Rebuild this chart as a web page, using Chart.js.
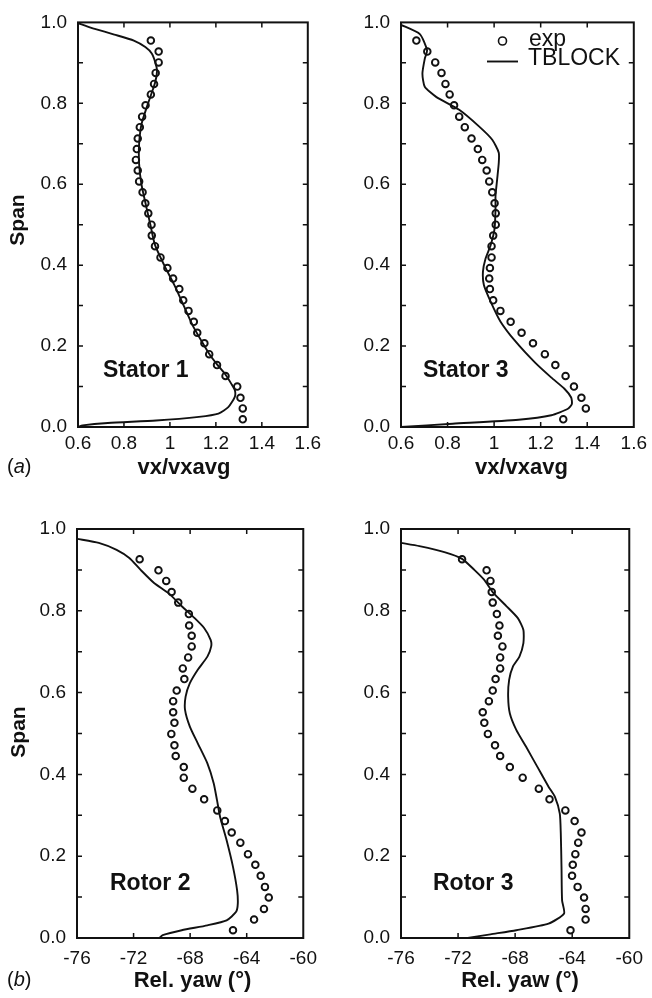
<!DOCTYPE html>
<html>
<head>
<meta charset="utf-8">
<script src="https://cdn.jsdelivr.net/npm/chart.js@4/dist/chart.umd.min.js"></script>
<style>
  html, body { margin: 0; padding: 0; background: #fff; }
  #wrap { position: relative; width: 652px; height: 998px; }
  canvas { position: absolute; }
</style>
</head>
<body>
<div id="wrap">
  <canvas id="stator1" width="326" height="490" style="left:0;top:0"></canvas>
  <canvas id="stator3" width="326" height="490" style="left:326px;top:0"></canvas>
  <canvas id="rotor2" width="326" height="498" style="left:0;top:500px"></canvas>
  <canvas id="rotor3" width="326" height="498" style="left:326px;top:500px"></canvas>
</div>
<script>
// --- values ---

// (a) stators: axial velocity ratio
const statorExpSpan = [0.019, 0.046, 0.072, 0.100, 0.126, 0.153, 0.180, 0.207, 0.233, 0.260, 0.287, 0.313,
  0.341, 0.367, 0.393, 0.419, 0.447, 0.473, 0.500, 0.528, 0.553, 0.580, 0.607, 0.634,
  0.660, 0.687, 0.713, 0.741, 0.767, 0.795, 0.822, 0.848, 0.875, 0.901, 0.928, 0.955];
const stator1ExpVx = [1.317, 1.317, 1.307, 1.293, 1.242, 1.205, 1.171, 1.150, 1.119, 1.104, 1.081, 1.058,
  1.041, 1.014, 0.989, 0.959, 0.935, 0.921, 0.920, 0.906, 0.893, 0.881, 0.866, 0.860,
  0.852, 0.856, 0.860, 0.869, 0.879, 0.894, 0.917, 0.931, 0.938, 0.951, 0.951, 0.917];
const stator3ExpVx = [1.297, 1.394, 1.375, 1.343, 1.307, 1.263, 1.218, 1.167, 1.118, 1.071, 1.027, 0.996,
  0.982, 0.979, 0.982, 0.989, 0.989, 0.996, 1.007, 1.007, 1.002, 0.992, 0.979, 0.968,
  0.949, 0.930, 0.903, 0.874, 0.850, 0.828, 0.809, 0.791, 0.774, 0.747, 0.713, 0.666];

const stator1CfdSpan = [0.000, 0.004, 0.010, 0.016, 0.025, 0.033, 0.049, 0.074, 0.090, 0.106, 0.131, 0.155,
  0.180, 0.210, 0.250, 0.300, 0.350, 0.400, 0.450, 0.500, 0.550, 0.600, 0.650, 0.700,
  0.750, 0.800, 0.850, 0.880, 0.900, 0.923, 0.939, 0.955, 0.970, 0.984, 0.992, 0.998];
const stator1CfdVx = [0.600, 0.620, 0.730, 0.940, 1.126, 1.211, 1.254, 1.282, 1.283, 1.268, 1.240, 1.205,
  1.172, 1.140, 1.100, 1.060, 1.020, 0.975, 0.935, 0.915, 0.895, 0.876, 0.866, 0.866,
  0.877, 0.905, 0.935, 0.944, 0.937, 0.921, 0.893, 0.843, 0.758, 0.673, 0.631, 0.600];

const stator3CfdSpan = [0.000, 0.008, 0.018, 0.029, 0.045, 0.057, 0.073, 0.094, 0.122, 0.159, 0.212, 0.261,
  0.310, 0.351, 0.384, 0.416, 0.449, 0.490, 0.539, 0.571, 0.612, 0.653, 0.678, 0.710,
  0.743, 0.784, 0.816, 0.841, 0.873, 0.910, 0.931, 0.971, 0.994];
const stator3CfdVx = [0.600, 0.822, 1.105, 1.246, 1.317, 1.334, 1.331, 1.303, 1.246, 1.176, 1.091, 1.027,
  0.985, 0.956, 0.952, 0.963, 0.985, 1.002, 1.006, 1.006, 1.013, 1.020, 1.020, 0.992,
  0.935, 0.850, 0.751, 0.702, 0.692, 0.702, 0.712, 0.681, 0.600];

// (b) rotors: relative yaw angle (deg)
const rotorExpSpan = [0.019, 0.045, 0.071, 0.099, 0.125, 0.152, 0.179, 0.205, 0.233, 0.258, 0.286, 0.312,
  0.339, 0.365, 0.392, 0.418, 0.445, 0.471, 0.499, 0.526, 0.552, 0.579, 0.605, 0.633,
  0.659, 0.686, 0.713, 0.739, 0.764, 0.792, 0.820, 0.846, 0.873, 0.899, 0.926];
const rotor2ExpYaw = [-64.97, -63.48, -62.78, -62.44, -62.71, -63.01, -63.39, -63.91, -64.45, -65.06, -65.54, -66.08,
  -67.01, -67.84, -68.45, -68.45, -69.02, -69.11, -69.33, -69.11, -69.20, -69.20, -68.95, -68.41,
  -68.52, -68.14, -67.89, -67.89, -68.07, -68.09, -68.84, -69.31, -69.69, -70.24, -71.57];
const rotor3ExpYaw = [-64.12, -63.06, -63.06, -63.17, -63.62, -64.01, -63.96, -63.78, -63.58, -63.35, -63.83, -64.48,
  -65.59, -66.34, -67.47, -68.37, -69.05, -69.41, -69.91, -70.16, -70.27, -69.84, -69.57, -69.37,
  -69.05, -69.05, -68.89, -69.21, -69.10, -69.28, -69.57, -69.64, -69.73, -70.00, -71.72];

const rotor2CfdSpan = [0.000, 0.007, 0.019, 0.031, 0.043, 0.064, 0.084, 0.117, 0.174, 0.239, 0.296, 0.337,
  0.378, 0.427, 0.476, 0.517, 0.558, 0.590, 0.623, 0.656, 0.688, 0.713, 0.729, 0.758,
  0.782, 0.811, 0.842, 0.868, 0.900, 0.929, 0.949, 0.966, 0.976];
const rotor2CfdYaw = [-70.17, -69.94, -68.59, -66.78, -65.42, -64.75, -64.63, -64.68, -64.97, -65.42, -65.88, -66.10,
  -66.33, -66.78, -67.46, -68.02, -68.36, -68.32, -68.02, -67.46, -66.78, -66.51, -66.55, -67.01,
  -67.68, -68.59, -69.49, -70.55, -71.50, -72.30, -73.20, -74.46, -76.00];

const rotor3CfdSpan = [0.000, 0.009, 0.019, 0.035, 0.060, 0.092, 0.174, 0.256, 0.304, 0.345, 0.370, 0.419,
  0.468, 0.509, 0.549, 0.590, 0.631, 0.664, 0.688, 0.721, 0.753, 0.782, 0.811, 0.843,
  0.876, 0.900, 0.927, 0.943, 0.958, 0.966];
const rotor3CfdYaw = [-71.32, -69.73, -67.92, -65.66, -64.57, -64.71, -64.75, -64.80, -64.87, -65.21, -65.66, -66.45,
  -67.24, -67.92, -68.37, -68.49, -68.42, -68.15, -67.70, -67.42, -67.42, -67.81, -68.60, -69.51,
  -70.18, -70.86, -71.72, -72.90, -74.71, -76.00];

// --- drawing ---
const INK = '#111';
const FONT = "'Liberation Sans', Arial, Helvetica, sans-serif";
Chart.defaults.font.family = FONT;
Chart.defaults.color = INK;

function pairs(xs, ys) {
  return xs.map((x, i) => ({ x: x, y: ys[i] }));
}

// box around the plot + short inward tick marks on all four sides
const framePlugin = {
  id: 'frame',
  afterDatasetsDraw(chart) {
    const { ctx, chartArea: a, scales } = chart;
    ctx.save();
    ctx.strokeStyle = INK;
    ctx.lineWidth = 1.5;
    const len = 5;
    const xs = scales.x.ticks;
    xs.forEach((t, i) => {
      if (i === 0 || i === xs.length - 1) return;
      const px = scales.x.getPixelForValue(t.value);
      ctx.beginPath();
      ctx.moveTo(px, a.bottom); ctx.lineTo(px, a.bottom - len);
      ctx.moveTo(px, a.top); ctx.lineTo(px, a.top + len);
      ctx.stroke();
    });
    const ys = scales.y.ticks;
    ys.forEach((t, i) => {
      if (i === 0 || i === ys.length - 1) return;
      const py = scales.y.getPixelForValue(t.value);
      ctx.beginPath();
      ctx.moveTo(a.left, py); ctx.lineTo(a.left + len, py);
      ctx.moveTo(a.right, py); ctx.lineTo(a.right - len, py);
      ctx.stroke();
    });
    ctx.lineWidth = 2;
    ctx.strokeRect(a.left, a.top, a.right - a.left, a.bottom - a.top);
    ctx.restore();
  }
};

function textPlugin(items) {
  return {
    id: 'figText',
    afterDraw(chart) {
      const ctx = chart.ctx;
      items.forEach(t => {
        ctx.save();
        ctx.fillStyle = INK;
        ctx.textBaseline = t.base || 'alphabetic';
        ctx.translate(t.x, t.y);
        if (t.rot) ctx.rotate(t.rot);
        if (t.parts) {
          let x = 0;
          ctx.textAlign = 'left';
          t.parts.forEach(p => {
            ctx.font = p[1];
            ctx.fillText(p[0], x, 0);
            x += ctx.measureText(p[0]).width;
          });
        } else {
          ctx.font = t.font;
          ctx.textAlign = t.align || 'left';
          ctx.fillText(t.text, 0, 0);
        }
        ctx.restore();
      });
    }
  };
}

// legend inside the Stator 3 panel
const legendPlugin = {
  id: 'innerLegend',
  afterDraw(chart) {
    const ctx = chart.ctx;
    const exp = chart.data.datasets[0], cfd = chart.data.datasets[1];
    ctx.save();
    ctx.strokeStyle = exp.borderColor;
    ctx.lineWidth = 1.6;
    ctx.beginPath();
    ctx.arc(176.5, 41, 4, 0, Math.PI * 2);
    ctx.stroke();
    ctx.strokeStyle = cfd.borderColor;
    ctx.lineWidth = cfd.borderWidth;
    ctx.beginPath();
    ctx.moveTo(161, 61.5); ctx.lineTo(192, 61.5);
    ctx.stroke();
    ctx.fillStyle = INK;
    ctx.font = '23px ' + FONT;
    ctx.textAlign = 'left';
    ctx.fillText(exp.label, 203, 46);
    ctx.fillText(cfd.label, 202, 65);
    ctx.restore();
  }
};

const tickFont = { size: 19 };

function makeChart(id, p) {
  return new Chart(document.getElementById(id), {
    type: 'scatter',
    data: {
      datasets: [
        {
          label: 'exp',
          data: pairs(p.expX, p.expY),
          showLine: false,
          pointStyle: 'circle',
          pointRadius: 3.3,
          pointBorderWidth: 1.9,
          borderColor: INK,
          backgroundColor: 'rgba(0,0,0,0)'
        },
        {
          label: 'TBLOCK',
          data: pairs(p.cfdX, p.cfdY),
          showLine: true,
          pointRadius: 0,
          borderColor: INK,
          borderWidth: 1.9,
          tension: 0.2
        }
      ]
    },
    options: {
      responsive: false,
      animation: false,
      events: [],
      layout: { padding: { top: p.padTop, right: p.padRight, bottom: 0, left: 0 } },
      plugins: { legend: { display: false }, tooltip: { enabled: false } },
      scales: {
        x: {
          type: 'linear',
          min: p.xMin,
          max: p.xMax,
          grid: { display: false, drawTicks: false },
          border: { display: false },
          ticks: {
            stepSize: p.xStep,
            autoSkip: false,
            maxRotation: 0,
            padding: p.xPad,
            font: tickFont,
            color: INK,
            callback: v => String(+v.toFixed(1))
          },
          afterFit: s => { s.height = p.xH; }
        },
        y: {
          type: 'linear',
          min: 0,
          max: 1,
          grid: { display: false, drawTicks: false },
          border: { display: false },
          ticks: {
            stepSize: 0.1,
            autoSkip: false,
            padding: 11,
            font: tickFont,
            color: INK,
            callback: (v, i) => (i % 2 === 0 ? v.toFixed(1) : '')
          },
          afterFit: s => { s.width = p.yW; }
        }
      }
    },
    plugins: [framePlugin, textPlugin(p.texts)].concat(p.extra || [])
  });
}

const titleFont = 'bold 22px ' + FONT;
const spanFont = 'bold 21px ' + FONT;
const tagFont = 'bold 23px ' + FONT;

makeChart('stator1', {
  expX: stator1ExpVx, expY: statorExpSpan, cfdX: stator1CfdVx, cfdY: stator1CfdSpan,
  xMin: 0.6, xMax: 1.6, xStep: 0.2, xPad: 5, xH: 63, yW: 78, padTop: 18, padRight: 13,
  texts: [
    { text: 'Span', x: 18.5, y: 220, rot: -Math.PI / 2, font: spanFont, align: 'center', base: 'middle' },
    { text: 'vx/vxavg', x: 184, y: 474, font: titleFont, align: 'center' },
    { parts: [['(', '20px ' + FONT], ['a', 'italic 20px ' + FONT], [')', '20px ' + FONT]], x: 7, y: 473 },
    { text: 'Stator 1', x: 103, y: 377, font: tagFont }
  ]
});

makeChart('stator3', {
  expX: stator3ExpVx, expY: statorExpSpan, cfdX: stator3CfdVx, cfdY: stator3CfdSpan,
  xMin: 0.6, xMax: 1.6, xStep: 0.2, xPad: 5, xH: 63, yW: 75, padTop: 18, padRight: 15,
  texts: [
    { text: 'vx/vxavg', x: 195.5, y: 474, font: titleFont, align: 'center' },
    { text: 'Stator 3', x: 97, y: 377, font: tagFont }
  ],
  extra: [legendPlugin]
});

makeChart('rotor2', {
  expX: rotor2ExpYaw, expY: rotorExpSpan, cfdX: rotor2CfdYaw, cfdY: rotor2CfdSpan,
  xMin: -76, xMax: -60, xStep: 4, xPad: 9, xH: 60, yW: 77, padTop: 29, padRight: 13,
  texts: [
    { text: 'Span', x: 19.5, y: 232, rot: -Math.PI / 2, font: spanFont, align: 'center', base: 'middle' },
    { text: 'Rel. yaw (°)', x: 192.5, y: 487, font: titleFont, align: 'center' },
    { parts: [['(', '20px ' + FONT], ['b', 'italic 20px ' + FONT], [')', '20px ' + FONT]], x: 7, y: 486 },
    { text: 'Rotor 2', x: 110, y: 390, font: tagFont }
  ]
});

makeChart('rotor3', {
  expX: rotor3ExpYaw, expY: rotorExpSpan, cfdX: rotor3CfdYaw, cfdY: rotor3CfdSpan,
  xMin: -76, xMax: -60, xStep: 4, xPad: 9, xH: 60, yW: 75, padTop: 29, padRight: 15,
  texts: [
    { text: 'Rel. yaw (°)', x: 194, y: 487, font: titleFont, align: 'center' },
    { text: 'Rotor 3', x: 107, y: 390, font: tagFont }
  ]
});
</script>
</body>
</html>
